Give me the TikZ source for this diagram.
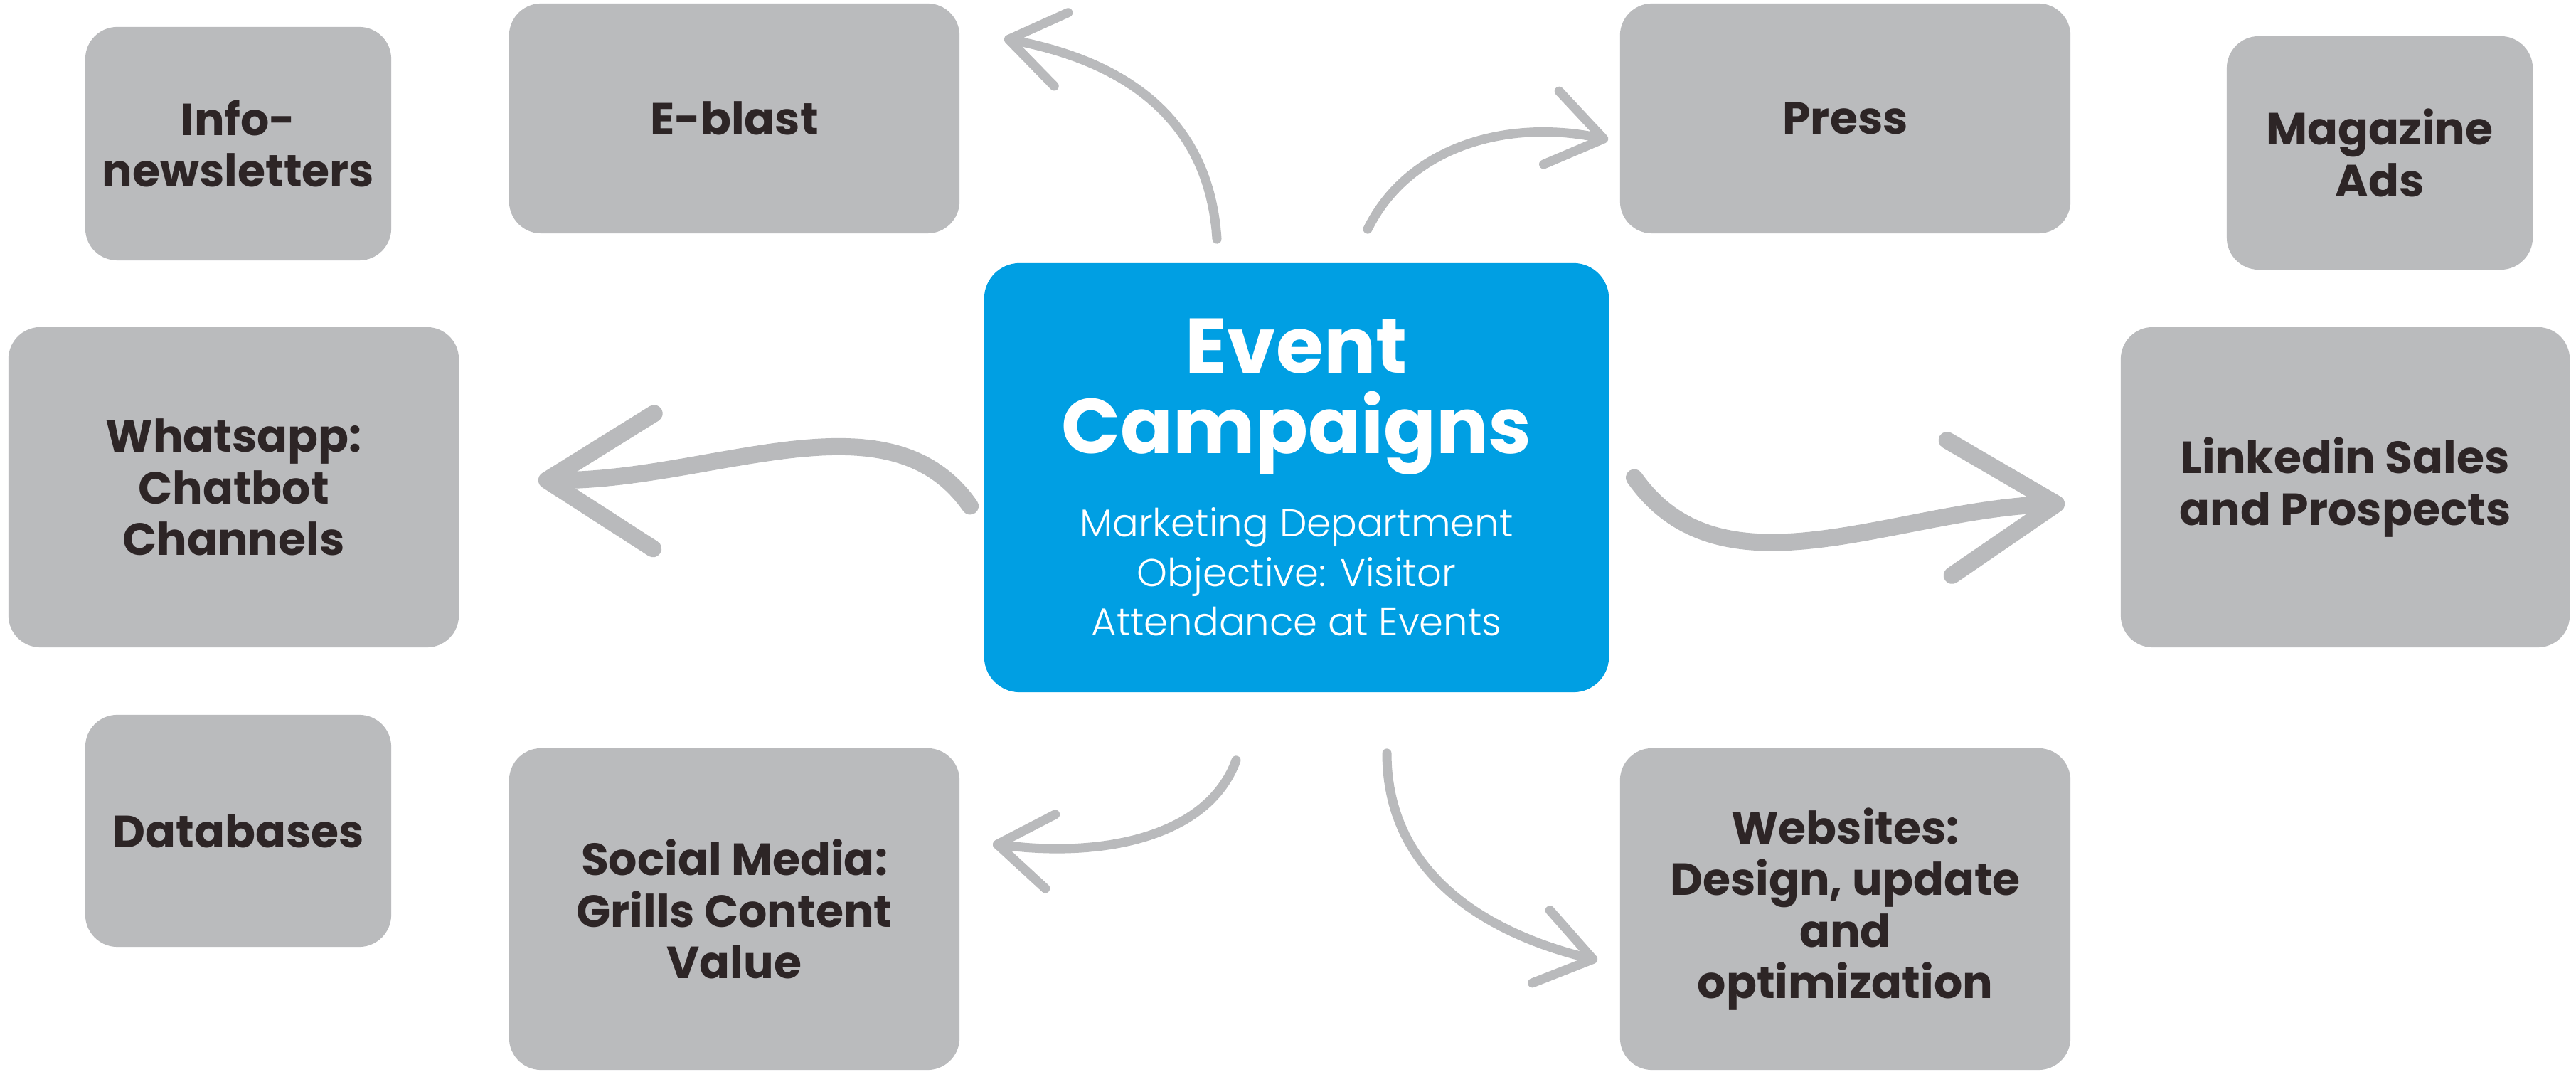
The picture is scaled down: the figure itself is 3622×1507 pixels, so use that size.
\documentclass[tikz,border=0pt]{standalone}
\usepackage{fontspec}
\setmainfont{Poppins}
\newfontfamily\sublight{Poppins}[UprightFont={* Light}]
\usepackage{tikz}
\usetikzlibrary{arrows.meta,positioning}
\definecolor{boxgray}{RGB}{186,187,189}
\definecolor{hubblue}{RGB}{0,159,227}
\definecolor{labelink}{RGB}{45,37,38}
\definecolor{arrowgray}{RGB}{185,186,188}

\begin{document}
\begin{tikzpicture}
 [x=0.01cm,y=0.01cm,
 channel/.style={
  rectangle,
  rounded corners=0.45cm,
  fill=boxgray,
  inner sep=0pt,
  align=center,
  text=labelink,
  font=\bfseries\fontsize{18}{20.6}\selectfont},
 hubbox/.style={
  rectangle,
  rounded corners=0.5cm,
  fill=hubblue,
  inner sep=0pt,
  minimum width=8.78cm,
  minimum height=6.03cm},
 titletext/.style={inner sep=0pt, align=center, text=white,
  font=\bfseries\fontsize{31}{32}\selectfont},
 subtext/.style={inner sep=0pt, align=center, text=white,
  font=\sublight\fontsize{15.5}{19.7}\selectfont},
 bigarrow/.style={draw=arrowgray, line width=0.24cm, line cap=round,
  -{Straight Barb[length=1.5cm,width=1.9cm,round]}},
 smallarrow/.style={draw=arrowgray, line width=0.13cm, line cap=round,
  -{Straight Barb[length=0.75cm,width=1.05cm,round]}}]
\useasboundingbox (0,0) rectangle (3622,1507);
% centre
\node (hub) [hubbox] at (1823,835.5) {};
\node (title) [titletext] at ([shift={(0,113.5)}]hub.center) {Event\\Campaigns};
\node (subtitle) [subtext, below=0.45cm of title] {Marketing Department\\Objective: Visitor\\Attendance at Events};
% channels
\node (info) [channel, minimum width=4.3cm, minimum height=3.28cm] at (335,1305) {Info-\\newsletters};
\node (eblast) [channel, minimum width=6.33cm, minimum height=3.23cm] at (1032.5,1340.5) {E-blast};
\node (press) [channel, minimum width=6.33cm, minimum height=3.23cm] at (2594.5,1340.5) {Press};
\node (magazine) [channel, minimum width=4.3cm, minimum height=3.28cm] at (3346,1292) {Magazine\\Ads};
\node (whatsapp) [channel, minimum width=6.33cm, minimum height=4.5cm] at (328.5,822) {Whatsapp:\\Chatbot\\Channels};
\node (linkedin) [channel, minimum width=6.31cm, minimum height=4.5cm] at (3297.5,822) {Linkedin Sales\\and Prospects};
\node (databases) [channel, minimum width=4.3cm, minimum height=3.26cm] at (335,339) {Databases};
\node (social) [channel, minimum width=6.33cm, minimum height=4.52cm] at (1032.5,229) {Social Media:\\Grills Content\\Value};
\node (websites) [channel, minimum width=6.33cm, minimum height=4.52cm] at (2594.5,229) {Websites:\\Design, update\\and\\optimization};
% arrows
\draw[bigarrow] ([shift={(-19,-40)}]hub.west) .. controls +(-115,165) and +(244,-2) .. ([shift={(111,10)}]whatsapp.east);
\draw[bigarrow] ([shift={(35,0)}]hub.east) .. controls +(123,-175) and +(-244,-9) .. ([shift={(-78,-23)}]linkedin.west);
\draw[smallarrow] ([shift={(-112,33)}]hub.north) .. controls +(-11,170) and +(169,-32) .. ([shift={(62,-50)}]eblast.north east);
\draw[smallarrow] ([shift={(100,47)}]hub.north) .. controls +(57,116) and +(-142,30) .. ([shift={(-16,-30)}]press.west);
\draw[smallarrow] ([shift={(-85,-95)}]hub.south) .. controls +(-40,-110) and +(150,-20) .. ([shift={(46,-135)}]social.north east);
\draw[smallarrow] ([shift={(127,-85)}]hub.south) .. controls +(0,-169) and +(-157,38) .. ([shift={(-31,-72)}]websites.west);
\end{tikzpicture}
\end{document}
